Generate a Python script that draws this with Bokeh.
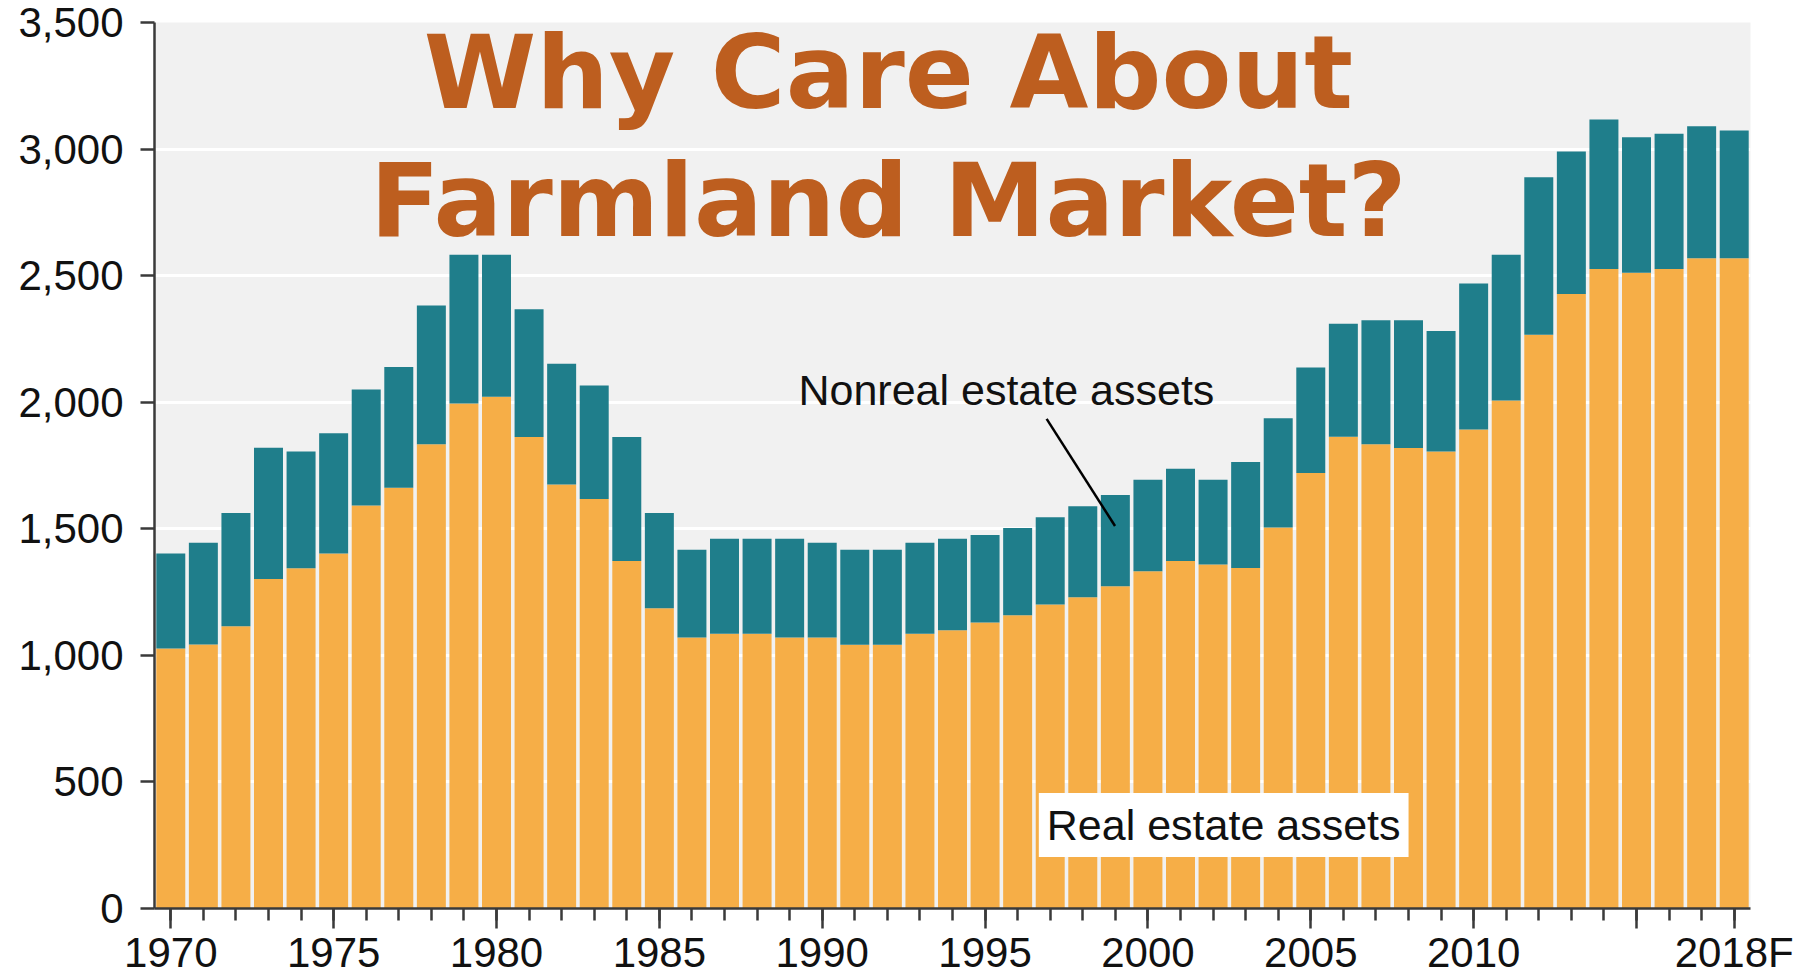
import numpy as np
from bokeh.plotting import figure
from bokeh.models import (ColumnDataSource, Range1d, FixedTicker, SingleIntervalTicker,
                          NumeralTickFormatter, Label, Arrow)
from bokeh.embed import file_html
from bokeh.resources import INLINE

# ---- data (billion dollars) ----
years = list(range(1970, 2019))
real_estate = [1027, 1043, 1115, 1302, 1344, 1402, 1592, 1662, 1834, 1995,
               2022, 1863, 1675, 1618, 1373, 1186, 1071, 1085, 1085, 1071,
               1071, 1042, 1042, 1085, 1099, 1130, 1158, 1201, 1230, 1273,
               1332, 1373, 1359, 1345, 1505, 1720, 1864, 1834, 1819, 1805,
               1892, 2007, 2267, 2427, 2526, 2511, 2526, 2569, 2569]
total_assets = [1402, 1445, 1562, 1820, 1805, 1877, 2050, 2139, 2382, 2583,
                2583, 2367, 2152, 2066, 1863, 1562, 1417, 1461, 1461, 1461,
                1445, 1417, 1417, 1445, 1461, 1475, 1503, 1546, 1589, 1633,
                1694, 1737, 1694, 1764, 1937, 2137, 2310, 2324, 2324, 2281,
                2469, 2583, 2889, 2990, 3117, 3047, 3061, 3090, 3073]
nonreal_estate = list(np.array(total_assets) - np.array(real_estate))

major_years = [1970, 1975, 1980, 1985, 1990, 1995, 2000, 2005, 2010, 2015, 2018]
year_labels = {2015: "", 2018: "2018F"}

title_lines = ["Why Care About", "Farmland Market?"]

ORANGE = "#F6AE47"
TEAL = "#1F7E8B"
TITLE = "#BD5E1F"

src = ColumnDataSource(dict(year=years, real=real_estate, nonreal=nonreal_estate))

p = figure(width=1808, height=978,
           x_range=Range1d(1969.5, 2018.5), y_range=Range1d(0, 3500),
           output_backend="svg", toolbar_location=None,
           min_border_left=154, min_border_right=58, min_border_top=22,
           min_border_bottom=0,
           background_fill_color="#F1F1F1", border_fill_color="white",
           outline_line_color=None)

p.vbar_stack(["real", "nonreal"], x="year", width=0.89, color=[ORANGE, TEAL],
             line_color=None, source=src)

# grid
p.xgrid.grid_line_color = None
p.ygrid.grid_line_color = "white"
p.ygrid.grid_line_width = 3
p.ygrid.ticker = SingleIntervalTicker(interval=500)

# y axis
p.yaxis.ticker = SingleIntervalTicker(interval=500)
p.yaxis.formatter = NumeralTickFormatter(format="0,0")
p.yaxis.major_tick_out = 14
p.yaxis.major_tick_in = 0
p.yaxis.major_label_standoff = 17

# x axis
p.xaxis.ticker = FixedTicker(ticks=major_years, minor_ticks=years)
p.xaxis.major_label_overrides = year_labels
p.xaxis.major_tick_out = 20
p.xaxis.major_tick_in = 0
p.xaxis.minor_tick_out = 12
p.xaxis.minor_tick_in = 0
p.xaxis.major_label_standoff = 0

for ax in (p.xaxis[0], p.yaxis[0]):
    ax.axis_line_color = "#3a3a3a"
    ax.axis_line_width = 2.5
    ax.major_tick_line_color = "#3a3a3a"
    ax.major_tick_line_width = 2.5
    ax.minor_tick_line_width = 2.5
    ax.major_label_text_font = "Liberation Sans"
    ax.major_label_text_font_size = "42px"
    ax.major_label_text_color = "#111111"
p.xaxis.minor_tick_line_color = "#3a3a3a"
p.yaxis.minor_tick_line_color = None

# title (two lines)
for txt, yy in zip(title_lines, [3302, 2796]):
    p.add_layout(Label(x=1992.03, y=yy, text=txt, text_align="center",
                       text_baseline="alphabetic", text_font="DejaVu Sans",
                       text_font_style="bold", text_font_size="102px",
                       text_color=TITLE))

# annotations
p.add_layout(Label(x=1989.27, y=2050, text="Nonreal estate assets",
                   text_baseline="alphabetic", text_font="Liberation Sans",
                   text_font_size="43px", text_color="#111111"))
p.add_layout(Arrow(end=None, x_start=1996.89, y_start=1934, x_end=1998.99, y_end=1511,
                   line_color="black", line_width=2.5))
p.add_layout(Label(x=1996.65, y=330, text="Real estate assets",
                   text_baseline="alphabetic", text_font="Liberation Sans",
                   text_font_size="43px", text_color="#111111",
                   background_fill_color="white", padding=8))

open("out.html", "w").write(file_html(p, INLINE))
